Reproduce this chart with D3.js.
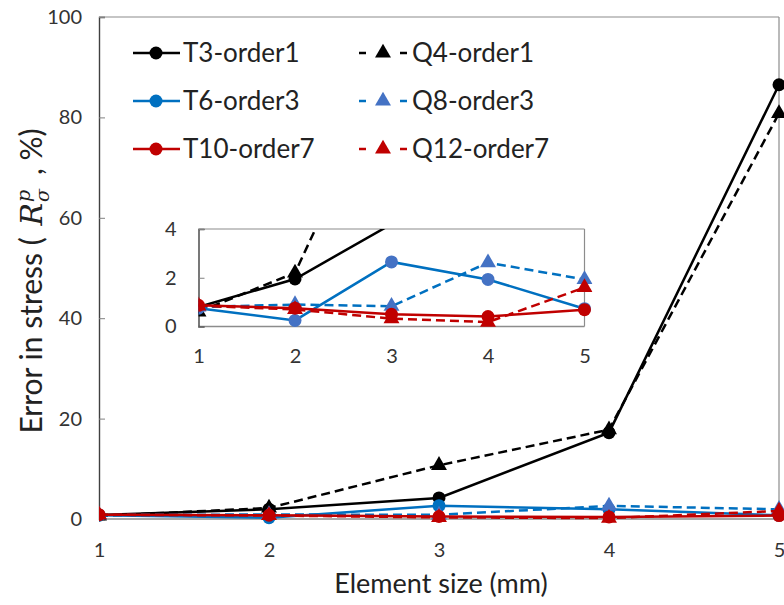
<!DOCTYPE html>
<html><head><meta charset="utf-8">
<script src="https://cdn.jsdelivr.net/npm/d3@7"></script>
<style>
html,body{margin:0;padding:0;background:#fff;}
svg{display:block;font-family:Lato, "Open Sans", sans-serif;}
text{white-space:pre;}
</style></head>
<body>
<svg id="c" width="784" height="605"></svg>
<script>
// ---- data ----
const sizes = [1, 2, 3, 4, 5];
const T3_order1  = [0.8, 1.95, 4.2, 17.2, 86.5];
const Q4_order1  = [0.6, 2.2, 10.7, 17.8, 80.8];
const T6_order3  = [0.75, 0.25, 2.65, 1.93, 0.73];
const Q8_order3  = [0.8, 0.9, 0.83, 2.62, 1.93];
const T10_order7 = [0.87, 0.75, 0.5, 0.41, 0.69];
const Q12_order7 = [0.85, 0.7, 0.32, 0.18, 1.6];
const yTicksMain = [0, 20, 40, 60, 80, 100];
const yTicksInset = [0, 2, 4];
const seriesNames = ["T3-order1","Q4-order1","T6-order3","Q8-order3","T10-order7","Q12-order7"];

const series = [
  {name:seriesNames[0], values:T3_order1,  color:"#000000", mcolor:"#000000", dashed:false, marker:"circle"},
  {name:seriesNames[1], values:Q4_order1,  color:"#000000", mcolor:"#000000", dashed:true,  marker:"triangle"},
  {name:seriesNames[2], values:T6_order3,  color:"#0070C0", mcolor:"#0070C0", dashed:false, marker:"circle"},
  {name:seriesNames[3], values:Q8_order3,  color:"#0070C0", mcolor:"#4472C4", dashed:true,  marker:"triangle"},
  {name:seriesNames[4], values:T10_order7, color:"#C00000", mcolor:"#C00000", dashed:false, marker:"circle"},
  {name:seriesNames[5], values:Q12_order7, color:"#C00000", mcolor:"#C00000", dashed:true,  marker:"triangle"}
];

const svg = d3.select("#c");

function drawPanel(opts){
  const {x, y, clipId, r, tri, lw, dash, insetBlue} = opts;
  const g = svg.append("g");
  const [x0,x1] = x.range(); const [y0,y1] = y.range();
  svg.append("clipPath").attr("id", clipId).append("rect")
    .attr("x", x0).attr("y", y1).attr("width", x1-x0+8).attr("height", y0-y1+8);
  // borders
  g.append("line").attr("x1",x0).attr("x2",x1).attr("y1",y1).attr("y2",y1).attr("stroke","#8c8c8c").attr("stroke-width",1.2);
  g.append("line").attr("x1",x1).attr("x2",x1).attr("y1",y1).attr("y2",y0).attr("stroke","#8c8c8c").attr("stroke-width",1.2);
  g.append("line").attr("x1",x0).attr("x2",x1).attr("y1",y0).attr("y2",y0).attr("stroke","#8c8c8c").attr("stroke-width",1.5);
  // y axis
  const ya = d3.axisLeft(y).tickValues(opts.yTicks).tickSize(-6).tickPadding(opts.yPad).tickFormat(d3.format("d"));
  const yg = g.append("g").attr("transform",`translate(${x0},0)`).call(ya);
  yg.select(".domain").attr("stroke","#404040").attr("stroke-width",1.4);
  yg.selectAll(".tick line").attr("stroke","#808080");
  yg.selectAll("text").attr("font-size",opts.fs).attr("fill","#333").attr("font-family","Lato");
  // x axis labels
  const xa = d3.axisBottom(x).tickValues(sizes).tickSize(0).tickPadding(opts.xPad).tickFormat(d3.format("d"));
  const xg = g.append("g").attr("transform",`translate(0,${y0})`).call(xa);
  xg.select(".domain").remove();
  xg.selectAll("text").attr("font-size",opts.fs).attr("fill","#333").attr("font-family","Lato");

  const lines = g.append("g").attr("clip-path",`url(#${clipId})`);
  const lineGen = d3.line().x((d,i)=>x(sizes[i])).y(d=>y(d));
  series.forEach(s=>{
    lines.append("path").datum(s.values).attr("d",lineGen)
      .attr("fill","none").attr("stroke",s.color).attr("stroke-width",lw)
      .attr("stroke-dasharray", s.dashed ? dash : null);
    const mc = (insetBlue && s.color==="#0070C0") ? "#4472C4" : s.mcolor;
    s.values.forEach((v,i)=>{
      if (v > y.domain()[1]) return;
      if (s.marker==="circle"){
        lines.append("circle").attr("cx",x(sizes[i])).attr("cy",y(v)).attr("r",r).attr("fill",mc);
      } else {
        lines.append("path").attr("d",d3.symbol(d3.symbolTriangle, tri)())
          .attr("transform",`translate(${x(sizes[i])},${y(v)})`).attr("fill",mc);
      }
    });
  });
}

// main chart
const xMain = d3.scaleLinear().domain([1,5]).range([99,779]);
const yMain = d3.scaleLinear().domain([0,100]).range([519,17]);
drawPanel({x:xMain, y:yMain, clipId:"clipMain", r:6.5, tri:110, lw:2.5, dash:"9,5",
  yTicks:yTicksMain, fs:20, yPad:17, xPad:24});

// inset
const xIn = d3.scaleLinear().domain([1,5]).range([198.5,584.5]);
const yIn = d3.scaleLinear().domain([0,4]).range([326.5,229]);
drawPanel({x:xIn, y:yIn, clipId:"clipIn", r:6.5, tri:110, lw:2.5, dash:"9,5", insetBlue:true,
  yTicks:yTicksInset, fs:20, yPad:22, xPad:22});

// axis title x
svg.append("text").attr("x",441).attr("y",593).attr("text-anchor","middle")
  .attr("font-size",27).attr("fill","#222").text("Element size (mm)");

// axis title y (with math)
const yl = svg.append("g");
let cx = 0;
function addPiece(txt, attrs, dy){
  const t = yl.append("text").attr("x",cx).attr("y",dy||0).attr("fill","#222")
    .style("white-space","pre").text(txt);
  Object.entries(attrs).forEach(([k,v])=>t.attr(k,v));
  return t.node().getComputedTextLength();
}
cx += addPiece("Error in stress ( ", {"font-size":30});
cx += 4;
const wR = addPiece("R", {"font-size":30, "font-family":"DejaVu Serif, serif", "font-style":"italic"});
cx += wR + 1;
const wp = addPiece("p", {"font-size":19, "font-family":"DejaVu Serif, serif", "font-style":"italic"}, -12);
const ws = addPiece("σ", {"font-size":19, "font-family":"DejaVu Serif, serif", "font-style":"italic"}, 7);
cx += Math.max(wp, ws) + 14;
cx += addPiece(", %)", {"font-size":30});
const total = cx;
yl.attr("transform",`translate(42,${281 + total/2}) rotate(-90)`);

// legend
const legRows = [53, 101, 149];
const lg = svg.append("g");
series.forEach((s,k)=>{
  const row = legRows[Math.floor(k/2)];
  const col = k % 2;
  if (col===0){
    lg.append("line").attr("x1",133).attr("x2",180).attr("y1",row).attr("y2",row)
      .attr("stroke",s.color).attr("stroke-width",2.5);
    lg.append("circle").attr("cx",156).attr("cy",row).attr("r",6.5).attr("fill",s.mcolor);
    lg.append("text").attr("x",183).attr("y",row).attr("dy","0.35em").attr("font-size",26).attr("fill","#222").text(s.name);
  } else {
    [[359,366],[400,407]].forEach(([a,b])=>{
      lg.append("line").attr("x1",a).attr("x2",b).attr("y1",row).attr("y2",row)
        .attr("stroke",s.color).attr("stroke-width",2.5);
    });
    lg.append("path").attr("d",d3.symbol(d3.symbolTriangle,110)())
      .attr("transform",`translate(383,${row})`).attr("fill",s.mcolor);
    lg.append("text").attr("x",412).attr("y",row).attr("dy","0.35em").attr("font-size",26).attr("fill","#222").text(s.name);
  }
});
</script>
</body></html>
